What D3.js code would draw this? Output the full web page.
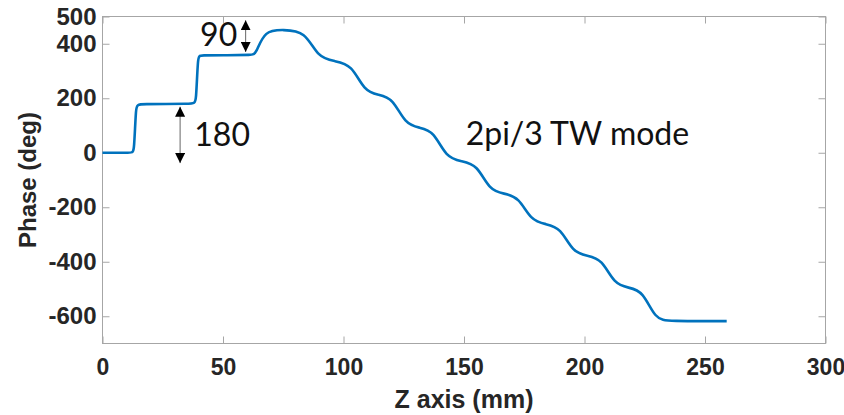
<!DOCTYPE html>
<html>
<head>
<meta charset="utf-8">
<script src="https://cdn.jsdelivr.net/npm/d3@7"></script>
<style>
  body { margin: 0; background: #fff; }
  svg { display: block; }
</style>
</head>
<body>
<div class="chart"></div>
<script>
// control points of the phase curve (smoothed with a B-spline)
var zValues = [0, 12.4, 13.1, 13.9, 14.6, 38.1, 38.8, 39.6, 40.3, 52, 62.0, 63.6,
  67.2, 75, 84.1,
  89.3, 96.3, 103.4,
  108.6, 114.5, 120.4,
  125.6, 131.5, 137.4,
  142.6, 149, 155.4,
  160.6, 166.6, 172.7,
  177.9, 184, 190.0,
  195.2, 201.2, 207.2,
  212.4, 218.3, 224.2,
  229.4, 235, 259];
var phaseValues = [0, 0, 0, 178, 178, 180, 180, 357, 357, 358, 359, 361,
  450, 451, 447,
  350, 336, 324,
  226, 213, 201,
  105, 92, 80,
  -18, -31, -43,
  -138, -150, -162,
  -250, -262, -274,
  -366, -378, -390,
  -483, -495, -507,
  -612, -618, -618];

var xTicks = [0, 50, 100, 150, 200, 250, 300];
var yTicks = [-600, -400, -200, 0, 200, 400, 500];

var arrows = [
  {z: 32.2, from: 169, to: -38},
  {z: 59.4, from: 486, to: 370}
];
var notes = [
  {z: 40.5, phase: 392, text: "90"},
  {z: 38.1, phase: 23, text: "180"},
  {z: 150.7, phase: 29, text: "2pi/3 TW mode"}
];

var width = 844, height = 415;
var plotLeft = 102.5, plotRight = 825.5, plotTop = 16.5, plotBottom = 343.5;

var svg = d3.select(".chart")
  .append("svg")
  .attr("width", width)
  .attr("height", height);

var x = d3.scaleLinear().domain([0, 300]).range([plotLeft, plotRight]);
var y = d3.scaleLinear().domain([-700, 500]).range([plotBottom, plotTop]);

var data = zValues.map(function(z, i) { return {z: z, p: phaseValues[i]}; });

// box
svg.append("rect")
  .attr("x", plotLeft).attr("y", plotTop)
  .attr("width", plotRight - plotLeft).attr("height", plotBottom - plotTop)
  .attr("fill", "none").attr("stroke", "#a6a6a6").attr("stroke-width", 1);

function styleAxis(g) {
  g.select(".domain").remove();
  g.selectAll(".tick line").attr("stroke", "#a6a6a6");
  g.selectAll(".tick text")
    .attr("fill", "#262626")
    .attr("font-family", "'Liberation Sans', Arial, sans-serif")
    .attr("font-weight", "bold")
    .attr("font-size", "23px");
}
var plain = function(d) { return String(d); };

svg.append("g")
  .attr("transform", "translate(0," + plotBottom + ")")
  .call(d3.axisBottom(x).tickValues(xTicks).tickFormat(plain).tickSizeInner(-7).tickSizeOuter(0).tickPadding(15))
  .call(styleAxis);

svg.append("g")
  .attr("transform", "translate(0," + plotTop + ")")
  .call(d3.axisTop(x).tickValues(xTicks).tickSizeInner(-7).tickSizeOuter(0).tickFormat(""))
  .call(styleAxis);

svg.append("g")
  .attr("transform", "translate(" + plotLeft + ",0)")
  .call(d3.axisLeft(y).tickValues(yTicks).tickFormat(plain).tickSizeInner(-7).tickSizeOuter(0).tickPadding(6))
  .call(styleAxis)
  .selectAll(".tick text").attr("font-size", "24px");

svg.append("g")
  .attr("transform", "translate(" + plotRight + ",0)")
  .call(d3.axisRight(y).tickValues(yTicks).tickSizeInner(-7).tickSizeOuter(0).tickFormat(""))
  .call(styleAxis);

// axis titles
svg.append("text")
  .attr("x", (plotLeft + plotRight) / 2).attr("y", 408)
  .attr("text-anchor", "middle")
  .attr("fill", "#262626")
  .attr("font-family", "'Liberation Sans', Arial, sans-serif")
  .attr("font-weight", "bold").attr("font-size", "25px")
  .text("Z axis (mm)");

svg.append("text")
  .attr("transform", "translate(36," + (plotTop + plotBottom) / 2 + ") rotate(-90)")
  .attr("text-anchor", "middle")
  .attr("fill", "#262626")
  .attr("font-family", "'Liberation Sans', Arial, sans-serif")
  .attr("font-weight", "bold").attr("font-size", "24px")
  .text("Phase (deg)");

// curve
var line = d3.line()
  .x(function(d) { return x(d.z); })
  .y(function(d) { return y(d.p); })
  .curve(d3.curveBasis);

svg.append("path")
  .datum(data)
  .attr("fill", "none")
  .attr("stroke", "#0072BD")
  .attr("stroke-width", 2.6)
  .attr("d", line);

// annotations
svg.append("defs").append("marker")
  .attr("id", "head")
  .attr("viewBox", "0 0 10 10")
  .attr("refX", 10).attr("refY", 5)
  .attr("markerUnits", "userSpaceOnUse")
  .attr("markerWidth", 10).attr("markerHeight", 10)
  .attr("orient", "auto-start-reverse")
  .append("path")
  .attr("d", "M0,0 L10,5 L0,10 Z")
  .attr("fill", "#000");

svg.selectAll(".arrow")
  .data(arrows)
  .enter().append("line")
  .attr("class", "arrow")
  .attr("x1", function(d) { return x(d.z); })
  .attr("x2", function(d) { return x(d.z); })
  .attr("y1", function(d) { return y(d.from); })
  .attr("y2", function(d) { return y(d.to); })
  .attr("stroke", "#666")
  .attr("stroke-width", 1)
  .attr("marker-start", "url(#head)")
  .attr("marker-end", "url(#head)");

svg.selectAll(".note")
  .data(notes)
  .enter().append("text")
  .attr("class", "note")
  .attr("x", function(d) { return x(d.z); })
  .attr("y", function(d) { return y(d.phase); })
  .attr("fill", "#111")
  .attr("font-family", "Lato, 'Open Sans', sans-serif")
  .attr("font-size", "32px")
  .text(function(d) { return d.text; });
</script>
</body>
</html>
